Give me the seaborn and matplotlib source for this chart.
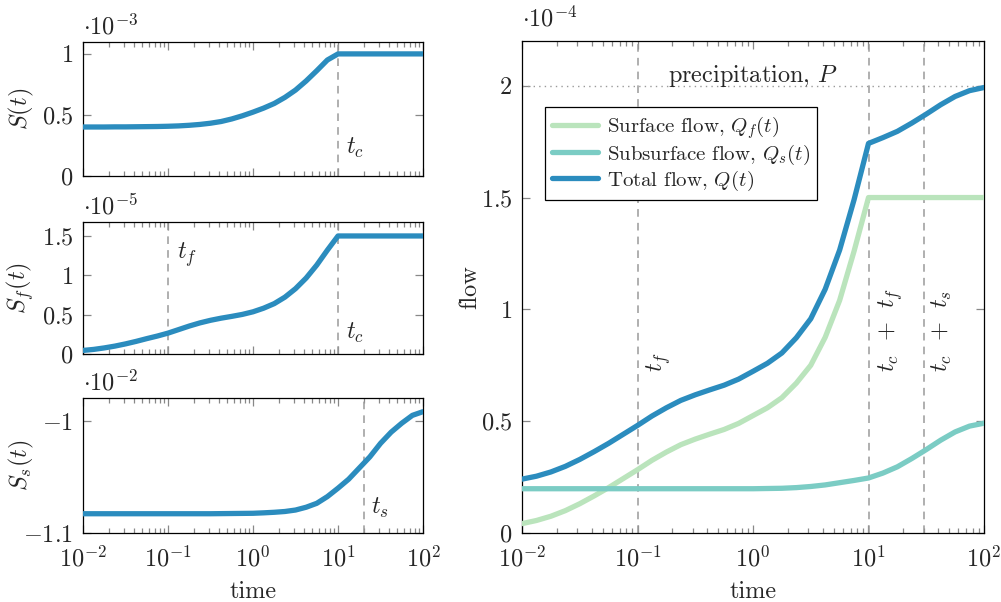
# storage and flow response, log time

import numpy as np
import pandas as pd
import matplotlib
matplotlib.use('Agg')
import matplotlib.pyplot as plt
import seaborn as sns

############################
# 1.0. DATA
############################

# sample times as powers of ten
log_time = [-2.0, -1.875, -1.75, -1.625, -1.5, -1.375, -1.25, -1.125,
            -1.0, -0.875, -0.75, -0.625, -0.5, -0.375, -0.25, -0.125,
            0.0, 0.125, 0.25, 0.375, 0.5, 0.625, 0.75, 0.875,
            1.0, 1.125, 1.25, 1.375, 1.5, 1.625, 1.75, 1.875, 2.0]

# storage, x 1e-3
storage = [0.400, 0.400, 0.400, 0.401, 0.401, 0.402, 0.403, 0.404,
           0.406, 0.409, 0.414, 0.421, 0.431, 0.445, 0.466, 0.492,
           0.522, 0.555, 0.593, 0.643, 0.703, 0.778, 0.862, 0.950,
           1.000, 1.000, 1.000, 1.000, 1.000, 1.000, 1.000, 1.000, 1.000]

# surface storage, x 1e-5
storage_f = [0.045, 0.058, 0.077, 0.100, 0.128, 0.160, 0.195, 0.228,
             0.265, 0.310, 0.355, 0.395, 0.428, 0.455, 0.478, 0.503,
             0.536, 0.582, 0.640, 0.722, 0.830, 0.965, 1.130, 1.320,
             1.500, 1.500, 1.500, 1.500, 1.500, 1.500, 1.500, 1.500, 1.500]

# subsurface storage, x 1e-2
storage_s = [-1.0828, -1.0828, -1.0828, -1.0828, -1.0828, -1.0828, -1.0828, -1.0828,
             -1.0828, -1.0828, -1.0828, -1.0828, -1.0828, -1.0827, -1.0826, -1.0825,
             -1.0824, -1.0820, -1.0815, -1.0808, -1.0795, -1.0770, -1.0735, -1.0675,
             -1.0600, -1.0520, -1.0420, -1.0320, -1.0200, -1.0100, -1.0020, -0.9950, -0.9917]

# flows, x 1e-4
flow_surface = [0.042, 0.056, 0.075, 0.100, 0.131, 0.166, 0.203, 0.243,
                0.283, 0.325, 0.362, 0.395, 0.420, 0.442, 0.463, 0.490,
                0.525, 0.560, 0.605, 0.670, 0.750, 0.875, 1.040, 1.260,
                1.500, 1.500, 1.500, 1.500, 1.500, 1.500, 1.500, 1.500, 1.500]
flow_subsurface = [0.198, 0.198, 0.198, 0.198, 0.198, 0.198, 0.198, 0.198,
                   0.198, 0.198, 0.198, 0.198, 0.198, 0.198, 0.198, 0.198,
                   0.198, 0.199, 0.200, 0.203, 0.208, 0.215, 0.225, 0.235,
                   0.246, 0.268, 0.296, 0.333, 0.373, 0.415, 0.452, 0.478, 0.491]
flow_total = [0.241, 0.254, 0.273, 0.298, 0.329, 0.364, 0.401, 0.441,
              0.481, 0.523, 0.560, 0.593, 0.618, 0.640, 0.661, 0.688,
              0.723, 0.759, 0.805, 0.873, 0.958, 1.090, 1.265, 1.490,
              1.742, 1.768, 1.796, 1.833, 1.873, 1.915, 1.952, 1.978, 1.992]

precipitation = 2.0
t_f, t_c, t_s = 0.1, 10.0, 20.0

df = pd.DataFrame({'time': 10 ** np.array(log_time),
                   'S': storage, 'S_f': storage_f, 'S_s': storage_s,
                   'Q_f': flow_surface, 'Q_s': flow_subsurface, 'Q': flow_total})

############################
# 2.0. STYLE
############################

sns.set_style('ticks')
plt.rcParams['font.family'] = ['cmr10', 'DejaVu Serif']
plt.rcParams['mathtext.fontset'] = 'cm'
plt.rcParams['axes.unicode_minus'] = False
plt.rcParams['axes.formatter.use_mathtext'] = True

FS = 17.5
LW = 3.8
C_TOTAL = '#2b8cbe'
C_SURF = '#bae4bc'
C_SUB = '#7bccc4'
C_GUIDE = '#9a9a9a'

xticks = [1e-2, 1e-1, 1e0, 1e1, 1e2]
xtick_labels = [r'$10^{-2}$', r'$10^{-1}$', r'$10^{0}$', r'$10^{1}$', r'$10^{2}$']


def style_axis(ax, yticks, ylabels, ylim, multiplier, show_x):
    ax.set_xscale('log')
    ax.set_xlim(1e-2, 1e2)
    ax.set_ylim(*ylim)
    ax.set_yticks(yticks)
    ax.set_yticklabels(ylabels, fontsize=FS)
    ax.set_xticks(xticks)
    if show_x:
        ax.set_xticklabels(xtick_labels, fontsize=FS)
    else:
        ax.set_xticklabels([])
    ax.tick_params(which='both', direction='in', top=True, right=True,
                   color='#888888', width=0.9)
    ax.tick_params(axis='x', which='both', pad=9)
    ax.tick_params(axis='y', which='both', pad=7)
    ax.tick_params(which='major', length=6)
    ax.tick_params(which='minor', length=3.5)
    for s in ax.spines.values():
        s.set_linewidth(0.9)
        s.set_color('black')
    ax.text(0, 1.02, multiplier, transform=ax.transAxes,
            ha='left', va='bottom', fontsize=FS)


def vline(ax, x):
    ax.axvline(x, color=C_GUIDE, lw=1.1, ls=(0, (5, 4)), zorder=1)


fig = plt.figure(figsize=(10.01, 6.02), dpi=100)
ax1 = fig.add_axes([0.0829, 0.7081, 0.3397, 0.2226])
ax2 = fig.add_axes([0.0829, 0.4120, 0.3397, 0.2193])
ax3 = fig.add_axes([0.0829, 0.1146, 0.3397, 0.2243])
ax4 = fig.add_axes([0.5215, 0.1146, 0.4615, 0.8173])

############################
# 3.0. LEFT PANELS
############################

# storage
sns.lineplot(data=df, x='time', y='S', ax=ax1, color=C_TOTAL, lw=LW, zorder=3)
vline(ax1, t_c)
style_axis(ax1, [0, 0.5, 1], ['$0$', '$0.5$', '$1$'], (0, 1.1),
           r'$\cdot 10^{-3}$', False)
ax1.text(t_c * 1.25, 0.226, '$t_c$', fontsize=FS, va='center', ha='left')
ax1.set_xlabel('')
ax1.set_ylabel('$S(t)$', fontsize=FS)
ax1.yaxis.set_label_coords(-0.137, 0.5)

# surface storage
sns.lineplot(data=df, x='time', y='S_f', ax=ax2, color=C_TOTAL, lw=LW, zorder=3)
vline(ax2, t_f)
vline(ax2, t_c)
style_axis(ax2, [0, 0.5, 1, 1.5], ['$0$', '$0.5$', '$1$', '$1.5$'], (0, 1.678),
           r'$\cdot 10^{-5}$', False)
ax2.text(t_f * 1.27, 1.26, '$t_f$', fontsize=FS, va='center', ha='left')
ax2.text(t_c * 1.25, 0.27, '$t_c$', fontsize=FS, va='center', ha='left')
ax2.set_xlabel('')
ax2.set_ylabel('$S_f(t)$', fontsize=FS)
ax2.yaxis.set_label_coords(-0.137, 0.5)

# subsurface storage
sns.lineplot(data=df, x='time', y='S_s', ax=ax3, color=C_TOTAL, lw=LW, zorder=3)
vline(ax3, t_s)
style_axis(ax3, [-1.1, -1.0], ['$-1.1$', '$-1$'], (-1.1, -0.9795),
           r'$\cdot 10^{-2}$', True)
ax3.text(t_s * 1.22, -1.078, '$t_s$', fontsize=FS, va='center', ha='left')
ax3.set_xlabel('time', fontsize=FS, va='top')
ax3.xaxis.set_label_coords(0.5, -0.355)
ax3.set_ylabel('$S_s(t)$', fontsize=FS)
ax3.yaxis.set_label_coords(-0.137, 0.5)

############################
# 4.0. FLOW PANEL
############################

ax4.axhline(precipitation, color=C_GUIDE, lw=1.0, ls=(0, (1, 3)), zorder=1)
for x in [t_f, t_c + t_f, t_c + t_s]:
    vline(ax4, x)
sns.lineplot(data=df, x='time', y='Q_f', ax=ax4, color=C_SURF, lw=LW, zorder=3,
             label='Surface flow, $Q_f(t)$')
sns.lineplot(data=df, x='time', y='Q_s', ax=ax4, color=C_SUB, lw=LW, zorder=3,
             label='Subsurface flow, $Q_s(t)$')
sns.lineplot(data=df, x='time', y='Q', ax=ax4, color=C_TOTAL, lw=LW, zorder=4,
             label='Total flow, $Q(t)$')
style_axis(ax4, [0, 0.5, 1, 1.5, 2], ['$0$', '$0.5$', '$1$', '$1.5$', '$2$'],
           (0, 2.2), r'$\cdot 10^{-4}$', True)

ax4.text(1.0, 2.018, 'precipitation, $P$', fontsize=FS, ha='center', va='baseline')
ax4.text(t_f * 1.14, 0.72, '$t_f$', fontsize=FS, rotation=90, ha='left', va='bottom')
ax4.text((t_c + t_f) * 1.16, 0.72, r'$t_c\;\,+\;\,t_f$', fontsize=FS, rotation=90,
         ha='left', va='bottom')
ax4.text((t_c + t_s) * 1.14, 0.72, r'$t_c\;\,+\;\,t_s$', fontsize=FS, rotation=90,
         ha='left', va='bottom')

ax4.set_xlabel('time', fontsize=FS, va='top')
ax4.xaxis.set_label_coords(0.5, -0.097)
ax4.set_ylabel('flow', fontsize=FS)
ax4.yaxis.set_label_coords(-0.089, 0.5)

leg = ax4.legend(loc='upper left', bbox_to_anchor=(0.05, 0.866), borderaxespad=0,
                 fontsize=15, frameon=True, fancybox=False, framealpha=1,
                 edgecolor='black', handlelength=2.2, handletextpad=0.4,
                 labelspacing=0.08, borderpad=0.35)
leg.get_frame().set_linewidth(0.9)

fig.savefig('out.png', dpi=100)
